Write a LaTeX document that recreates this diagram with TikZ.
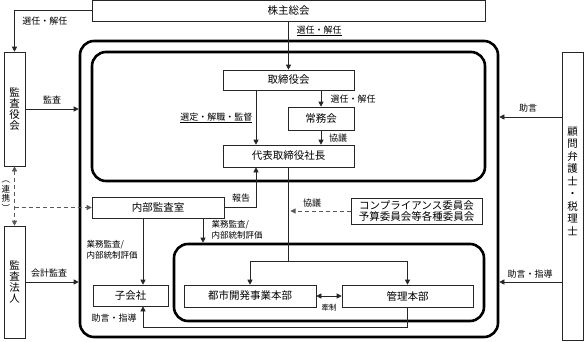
\documentclass[tikz,border=0pt]{standalone}
\usepackage{fontspec}
\setmainfont{Noto Sans CJK JP}
\usetikzlibrary{arrows.meta,calc}
\begin{document}
\begin{tikzpicture}[x=1pt,y=-1pt,
  box/.style={draw=black!85, line width=0.6pt, inner sep=0pt, font=\fontsize{10.5}{12}\selectfont},
  vbox/.style={box, align=center, font=\fontsize{10.5}{11}\selectfont},
  frame/.style={draw=black, line width=2.6pt, rounded corners=14pt, inner sep=0pt},
  conn/.style={draw=black!85, line width=0.6pt},
  arr/.style={conn, -{Triangle[length=5pt,width=5pt]}},
  darr/.style={arr, dash pattern=on 4pt off 3pt, draw=black!65},
  lbl/.style={font=\fontsize{9}{11}\selectfont, inner sep=0.5pt}
]
\useasboundingbox (0,0) rectangle (584,341);
% frames
\node[frame, minimum width=418pt, minimum height=296pt] (outer) at (289,189) {};
\node[frame, minimum width=393pt, minimum height=129pt] (upper) at (288.5,116.5) {};
\node[frame, minimum width=310pt, minimum height=77pt] (lower) at (329,282.5) {};
% boxes
\node[box, fill=white, minimum width=393pt, minimum height=21pt] (kabu) at (288.5,10.5) {株主総会};
\node[vbox, minimum width=21pt, minimum height=114pt] (kansayaku) at (14.5,109) {監\\査\\役\\会};
\node[vbox, minimum width=21pt, minimum height=112pt] (kansahojin) at (14.5,282) {監\\査\\法\\人};
\node[vbox, minimum width=21pt, minimum height=288pt, font=\fontsize{10.5}{12.5}\selectfont, text depth=30pt] (komon) at (572.5,196)
  {顧\\問\\弁\\護\\士\\・\\税\\理\\士};
\node[box, minimum width=131pt, minimum height=20pt] (tori) at (288.5,80) {取締役会};
\node[box, minimum width=66pt, minimum height=23pt] (jomu) at (321,118.5) {常務会};
\node[box, minimum width=131pt, minimum height=22pt] (shacho) at (288.5,156) {代表取締役社長};
\node[box, minimum width=132pt, minimum height=21pt] (naibu) at (158,207.5) {内部監査室};
\node[box, align=center, minimum width=131pt, minimum height=26pt, font=\fontsize{10.5}{11.5}\selectfont] (iinkai) at (416.5,211) {コンプライアンス委員会\\予算委員会等各種委員会};
\node[box, minimum width=75pt, minimum height=21pt] (ko) at (130.5,295.5) {子会社};
\node[box, minimum width=132pt, minimum height=22pt] (toshi) at (250,296) {都市開発事業本部};
\node[box, minimum width=131pt, minimum height=22pt] (kanri) at (407.5,296) {管理本部};
% helper coordinates
\coordinate (kx) at (143,0);
\coordinate (nx) at (203,0);
\coordinate (sx) at (256,0);
\coordinate (br) at (288.5,261);
\coordinate (kyogi) at (290.5,211);
\coordinate (adv1) at (562,117);
\coordinate (adv2) at (562,282);
\coordinate (back) at (407.5,327);
% connectors
\draw[arr] (kabu.west) -| (kansayaku.north);
\draw[arr] (kabu.south -| tori.north) -- (tori.north);
\draw[arr] (jomu.north |- tori.south) -- (jomu.north);
\draw[arr] (jomu.south) -- (jomu.south |- shacho.north);
\draw[arr] (tori.south -| sx) -- (shacho.north -| sx);
\draw[arr] (naibu.east) -| (shacho.south -| sx);
\draw[conn] (shacho.south) -- (br);
\draw[arr] (br) -| (toshi.north);
\draw[arr] (br) -| (kanri.north);
\draw[conn, {Triangle[length=5pt,width=5pt]}-{Triangle[length=5pt,width=5pt]}] (toshi.east) -- (kanri.west);
\draw[arr] (kanri.south) -- (back) -| (ko.south -| kx);
\draw[arr] (naibu.south -| kx) -- (ko.north -| kx);
\draw[arr] (naibu.south -| nx) -- (lower.north -| nx);
\draw[darr, {Triangle[length=5pt,width=5pt]}-{Triangle[length=5pt,width=5pt]}] (kansayaku.south) -- (kansahojin.north);
\draw[darr] (naibu.west -| kansayaku.south) -- (naibu.west);
\draw[darr] (iinkai.west) -- (kyogi);
\draw[arr] (kansayaku.east) -- (kansayaku.east -| outer.west);
\draw[arr] (kansahojin.east) -- (kansahojin.east -| outer.west);
\draw[arr] (adv1) -- (adv1 -| outer.east);
\draw[arr] (adv2) -- (adv2 -| outer.east);
% labels
\node[lbl] (l1) at (45,21) {選任・解任};
\node[lbl] (l2) at (319,31) {\underline{選任・解任}};
\node[lbl] (l3) at (353,99) {選任・解任};
\node[lbl] (l4) at (338,138) {協議};
\node[lbl, anchor=east] (l5) at (253,118) {\underline{選定・解職・監督}};
\node[lbl] (l6) at (241,198) {報告};
\node[lbl] (l7) at (312,203) {協議};
\node[lbl, align=left, font=\fontsize{8.5}{11.5}\selectfont] (l8) at (237,230) {業務監査/\\内部統制評価};
\node[lbl, align=left, font=\fontsize{8.5}{11.5}\selectfont] (l9) at (112,250) {業務監査/\\内部統制評価};
\node[lbl, font=\fontsize{7.5}{9}\selectfont] (l10) at (329,308) {牽制};
\node[lbl] (l11) at (114,318) {助言・指導};
\node[lbl] (l12) at (52,100) {監査};
\node[lbl] (l13) at (49,273) {会計監査};
\node[lbl] (l14) at (528,108) {助言};
\node[lbl] (l15) at (530,274) {助言・指導};
\node[lbl, align=center, font=\fontsize{8.5}{9.5}\selectfont] (l16) at (6,196) {︵\\連\\携\\︶};
\end{tikzpicture}
\end{document}
